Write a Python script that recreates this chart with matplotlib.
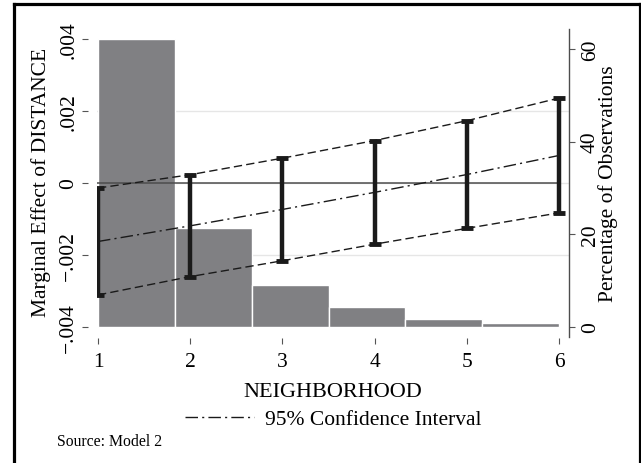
import matplotlib
matplotlib.use('Agg')
import matplotlib.pyplot as plt
import matplotlib.transforms as mtransforms
from matplotlib.lines import Line2D
from matplotlib.ticker import FixedLocator, FuncFormatter


# ----------------------------------------------------------------------------------------
#                             DATA AREA

neighborhood = [1, 2, 3, 4, 5, 6]
# marginal effect of DISTANCE and 95% bounds
effect   = [-0.001625, -0.00119, -0.000735, -0.00026, 0.000235, 0.000765]
ci_upper = [-0.00014, 0.00023, 0.00069, 0.00118, 0.00173, 0.00236]
ci_lower = [-0.00311, -0.0026, -0.00216, -0.0017, -0.00126, -0.00083]

# histogram of NEIGHBORHOOD (percentage of observations), 6 bins from 1 to 6
bin_edges = [1, 1 + 5/6, 1 + 10/6, 1 + 15/6, 1 + 20/6, 1 + 25/6, 6]
bin_pct   = [62.2, 21.3, 9.0, 4.2, 1.7, 0.75]

left_ticks  = [-0.004, -0.002, 0, 0.002, 0.004]
grid_vals   = [-0.002, 0, 0.002]
right_ticks = [0, 20, 40, 60]


# ----------------------------------------------------------------------------------------
#                             PLOTTING AREA

plt.rcParams['font.family'] = ['Liberation Serif', 'DejaVu Serif']
FS = 15.5
W, H = 641, 464

fig = plt.figure(figsize=(W / 100, H / 100), dpi=100)
pos = [97 / W, 1 - 338 / H, 472 / W, 308 / H]

ax = fig.add_axes(pos)
axh = ax.twinx()
ax.set_zorder(axh.get_zorder() + 1)
ax.patch.set_visible(False)

ax.set_xlim(0.989, 6.108)
ax.set_ylim(-0.004278, 0.004278)
axh.set_ylim(-2.23, 64.33)

# gridlines of the left scale, behind the bars
trans = mtransforms.blended_transform_factory(axh.transAxes, ax.transData)
for v in grid_vals:
    axh.add_line(Line2D([0, 1], [v, v], transform=trans, color='#e6e6e6', lw=1.0, zorder=0))

# histogram bars
widths = [bin_edges[i + 1] - bin_edges[i] for i in range(len(bin_pct))]
axh.bar(bin_edges[:-1], bin_pct, width=widths, align='edge', color='#808083',
        edgecolor='white', linewidth=1.0, zorder=2)

# zero line
ax.hlines(0, ax.get_xlim()[0], neighborhood[-1], color='#4d4d4d', lw=1.1, zorder=3)

# marginal effect + confidence bounds
ax.plot(neighborhood, effect, color='#1a1a1a', lw=1.0, dashes=(9, 3, 1.5, 3), zorder=4)
ax.plot(neighborhood, ci_upper, color='#1a1a1a', lw=1.0, dashes=(6, 3), zorder=4)
ax.plot(neighborhood, ci_lower, color='#1a1a1a', lw=1.0, dashes=(6, 3), zorder=4)
ax.vlines(neighborhood, ci_lower, ci_upper, color='#1a1a1a', lw=3.2, zorder=5)
ax.plot(neighborhood, ci_upper, ls='none', marker='_', ms=8, mew=3.5, color='#1a1a1a', zorder=5)
ax.plot(neighborhood, ci_lower, ls='none', marker='_', ms=8, mew=3.5, color='#1a1a1a', zorder=5)

# spines
for s in ['top', 'right', 'left', 'bottom']:
    ax.spines[s].set_visible(False)
for s in ['top', 'left', 'bottom']:
    axh.spines[s].set_visible(False)
axh.spines['right'].set_color('#4d4d4d')
axh.spines['right'].set_linewidth(1.0)

ax.spines['left'].set_position(('outward', 6.5))
ax.spines['bottom'].set_position(('outward', 0.5))

def fmt_left(v, p):
    if abs(v) < 1e-12:
        return '0'
    s = ('%.3f' % v).replace('0.', '.')
    return s.replace('-', '\u2212')

ax.yaxis.set_major_locator(FixedLocator(left_ticks))
ax.yaxis.set_major_formatter(FuncFormatter(fmt_left))
ax.set_xticks(neighborhood)
axh.set_yticks(right_ticks)

ax.tick_params(axis='y', direction='out', length=4, width=0.8, color='#555555', pad=3,
               labelsize=FS, labelrotation=90)
ax.tick_params(axis='x', direction='out', length=4.5, width=0.8, color='#555555', pad=6,
               labelsize=FS)
axh.tick_params(axis='y', direction='out', length=4.5, width=0.8, color='#555555', pad=4,
                labelsize=FS, labelrotation=90)
for lab in ax.get_yticklabels():
    lab.set_va('center')
for lab in axh.get_yticklabels():
    lab.set_va('center')

ax.set_xlabel('NEIGHBORHOOD', fontsize=FS + 0.5, labelpad=8)
ax.set_ylabel('Marginal Effect of DISTANCE', fontsize=FS)
axh.set_ylabel('Percentage of Observations', fontsize=FS, rotation=90)
ax.yaxis.set_label_coords(-46 / 472, 0.505)
axh.yaxis.set_label_coords(1 + 29 / 472, 0.5)

# legend (single key) and note
leg_line = Line2D([], [], color='#1a1a1a', lw=1.0, dashes=(9, 3, 1.5, 3))
fig.legend([leg_line], ['95% Confidence Interval'], loc='center', bbox_to_anchor=(333 / W, 1 - 420 / H),
           frameon=False, fontsize=FS, handlelength=3.2, handletextpad=0.5)
fig.text(57 / W, 1 - 442 / H, 'Source: Model 2', fontsize=11.3, va='center', ha='left')

# outer frame
frame_kw = dict(transform=fig.transFigure, color='black', lw=2.3)
fig.lines.append(Line2D([13.5 / W, 13.5 / W], [0, 1 - 5 / H], **frame_kw))
fig.lines.append(Line2D([13.5 / W, 639.5 / W], [1 - 5 / H, 1 - 5 / H], **frame_kw))
fig.lines.append(Line2D([639.5 / W, 639.5 / W], [0, 1 - 5 / H], **frame_kw))

fig.savefig('out.png', dpi=100)
